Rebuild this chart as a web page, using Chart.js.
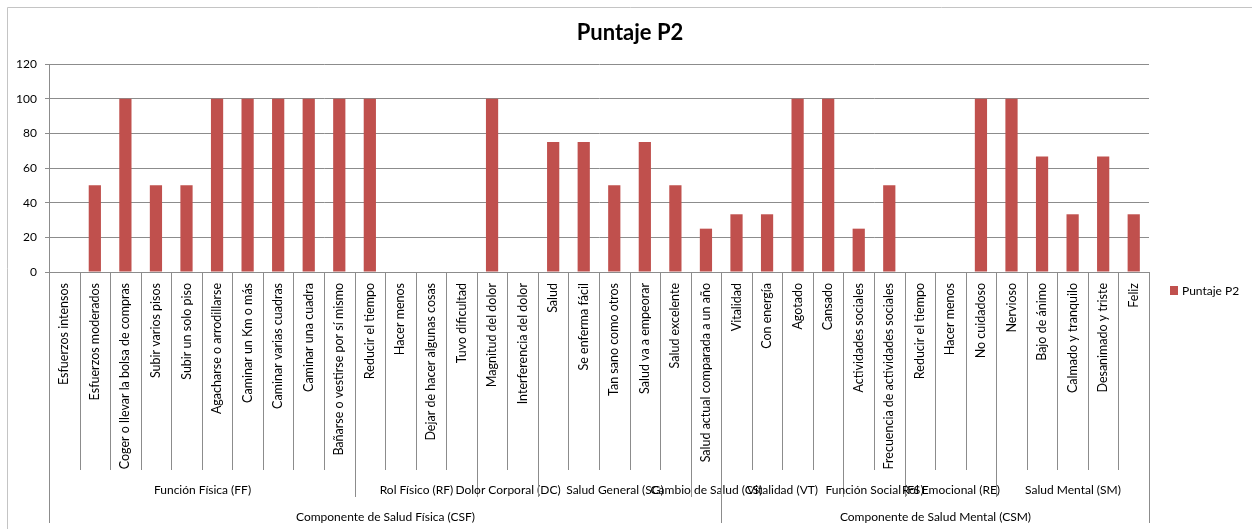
<!DOCTYPE html>
<html>
<head>
<meta charset="utf-8">
<title>Puntaje P2</title>
<script src="https://cdn.jsdelivr.net/npm/chart.js@4.4.1/dist/chart.umd.min.js"></script>
<style>
  html, body { margin:0; padding:0; background:#fff; }
  #wrap { width:1252px; height:529px; position:relative; }
</style>
</head>
<body>
<div id="wrap"><canvas id="chart"></canvas></div>
<script>
// ============================================================
//  Puntaje P2 – SF-36 item scores, multi-level category axis
// ============================================================

const itemLabels = [
  'Esfuerzos intensos', 'Esfuerzos moderados', 'Coger o llevar la bolsa de compras',
  'Subir varios pisos', 'Subir un solo piso', 'Agacharse o arrodillarse',
  'Caminar un Km o más', 'Caminar varias cuadras', 'Caminar una cuadra',
  'Bañarse o vestirse por sí mismo',
  'Reducir el tiempo', 'Hacer menos', 'Dejar de hacer algunas cosas', 'Tuvo dificultad',
  'Magnitud del dolor', 'Interferencia del dolor',
  'Salud', 'Se enferma fácil', 'Tan sano como otros', 'Salud va a empeorar', 'Salud excelente',
  'Salud actual comparada a un año',
  'Vitalidad', 'Con energía', 'Agotado', 'Cansado',
  'Actividades sociales', 'Frecuencia de actividades sociales',
  'Reducir el tiempo', 'Hacer menos', 'No cuidadoso',
  'Nervioso', 'Bajo de ánimo', 'Calmado y tranquilo', 'Desanimado y triste', 'Feliz'
];

const scoreP2 = [
  0, 50, 100, 50, 50, 100, 100, 100, 100, 100,
  100, 0, 0, 0,
  100, 0,
  75, 75, 50, 75, 50,
  25,
  33.3, 33.3, 100, 100,
  25, 50,
  0, 0, 100,
  100, 66.7, 33.3, 66.7, 33.3
];

const subscaleLabels = [
  'Función Física (FF)', 'Rol Físico (RF)', 'Dolor Corporal (DC)', 'Salud General (SG)',
  'Cambio de Salud (CS)', 'Vitalidad (VT)', 'Función Social (FS)', 'Rol Emocional (RE)',
  'Salud Mental (SM)'
];
const subscaleSizes = [10, 4, 2, 5, 1, 4, 2, 3, 5];

const componentLabels = ['Componente de Salud Física (CSF)', 'Componente de Salud Mental (CSM)'];
const componentSizes = [22, 14];

const yMin = 0, yMax = 120, yStep = 20;
const seriesName = 'Puntaje P2';

const FONT = 'Lato, "Noto Sans", sans-serif';
const LINE = '#8c8c8c';
const BAR  = '#C0504D';

// draws the three label rows under the axis + legend + outer frame
const multiLevelAxis = {
  id: 'multiLevelAxis',
  beforeDraw(chart) {
    const { ctx, width, height } = chart;
    ctx.save();
    ctx.fillStyle = '#fff';
    ctx.fillRect(0, 0, width, height);
    ctx.strokeStyle = '#c4c4c4';
    ctx.lineWidth = 1;
    ctx.beginPath();
    ctx.moveTo(7.5, height + 5);
    ctx.lineTo(7.5, 7.5);
    ctx.lineTo(width + 5, 7.5);
    ctx.stroke();
    ctx.restore();
  },
  afterDraw(chart) {
    const { ctx } = chart;
    const x = chart.scales.x;
    const n = itemLabels.length;
    const cw = x.width / n;
    const edge = i => Math.round(x.left + i * cw) + 0.5;
    const top = x.top;

    ctx.save();
    ctx.strokeStyle = LINE;
    ctx.lineWidth = 1;

    const vline = (i, len) => {
      ctx.beginPath();
      ctx.moveTo(edge(i), top);
      ctx.lineTo(edge(i), top + len);
      ctx.stroke();
    };

    // level 1 – items (vertical text)
    for (let i = 0; i <= n; i++) vline(i, 198);

    ctx.fillStyle = '#000';
    ctx.font = '12.5px ' + FONT;
    ctx.textAlign = 'right';
    ctx.textBaseline = 'middle';
    itemLabels.forEach((lbl, i) => {
      const cx = x.getPixelForValue(i);
      ctx.save();
      ctx.translate(cx, top + 11);
      ctx.rotate(-Math.PI / 2);
      ctx.fillText(lbl, 0, 0);
      ctx.restore();
    });

    // level 2 – subscales
    ctx.font = '12px ' + FONT;
    ctx.textAlign = 'center';
    let s = 0;
    subscaleSizes.forEach((sz, k) => {
      vline(s, 225);
      const cx = (edge(s) + edge(s + sz)) / 2;
      ctx.fillText(subscaleLabels[k], cx, top + 218);
      s += sz;
    });
    vline(s, 225);

    // level 3 – components
    s = 0;
    componentSizes.forEach((sz, k) => {
      vline(s, x.height);
      const cx = (edge(s) + edge(s + sz)) / 2;
      ctx.fillText(componentLabels[k], cx, top + 245);
      s += sz;
    });
    vline(s, x.height);

    // legend
    const ds = chart.data.datasets[0];
    const lx = chart.chartArea.right + 21;
    ctx.fillStyle = ds.backgroundColor;
    ctx.fillRect(lx, 286, 8, 9);
    ctx.fillStyle = '#000';
    ctx.textAlign = 'left';
    ctx.fillText(ds.label, lx + 12, 291);

    ctx.restore();
  }
};

new Chart(document.getElementById('chart'), {
  type: 'bar',
  data: {
    labels: itemLabels,
    datasets: [{
      label: seriesName,
      data: scoreP2,
      backgroundColor: BAR,
      borderWidth: 0,
      barPercentage: 0.4,
      categoryPercentage: 1.0
    }]
  },
  options: {
    responsive: true,
    maintainAspectRatio: false,
    animation: false,
    devicePixelRatio: 1,
    layout: { padding: { left: 8, top: 8, right: 0, bottom: 6 } },
    plugins: {
      legend: { display: false },
      tooltip: { enabled: false },
      title: {
        display: true,
        text: seriesName,
        color: '#000',
        font: { family: FONT, size: 22, weight: 'bold' },
        padding: { top: 12, bottom: 17.6 }
      }
    },
    scales: {
      x: {
        ticks: { display: false },
        grid: { display: false },
        border: { display: true, color: LINE },
        afterFit: s => { s.height = 251; }
      },
      y: {
        min: yMin,
        max: yMax,
        ticks: { stepSize: yStep, color: '#000', padding: 8, font: { family: FONT, size: 12 } },
        grid: { color: LINE, tickLength: 4 },
        border: { color: LINE },
        afterFit: s => { s.width = 41; }
      },
      // empty right-hand column that holds the legend space
      y2: {
        position: 'right',
        display: true,
        ticks: { display: false },
        grid: { display: false },
        border: { display: false },
        afterFit: s => { s.width = 103; }
      }
    }
  },
  plugins: [multiLevelAxis]
});
</script>
</body>
</html>
